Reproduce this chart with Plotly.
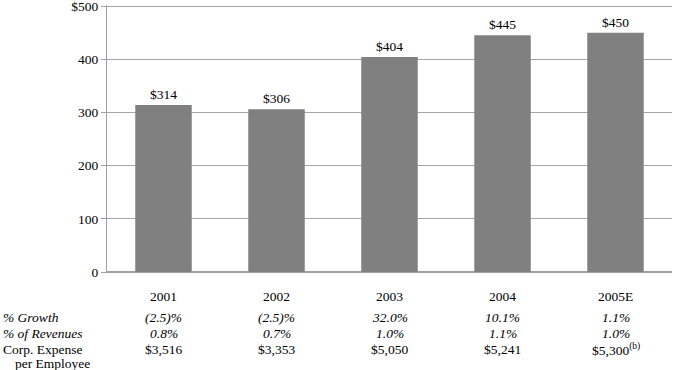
import plotly.graph_objects as go

years = ["2001", "2002", "2003", "2004", "2005E"]
expense = [314, 306, 404, 445, 450]
bar_labels = ["$314", "$306", "$404", "$445", "$450"]
growth = ["(2.5)%", "(2.5)%", "32.0%", "10.1%", "1.1%"]
revenues = ["0.8%", "0.7%", "1.0%", "1.1%", "1.0%"]
per_employee = ["$3,516", "$3,353", "$5,050", "$5,241", "$5,300<sup>(b)</sup>"]
tick_vals = [0, 100, 200, 300, 400, 500]
tick_text = ["0", "100", "200", "300", "400", "$500"]

FONT = "Liberation Serif"

fig = go.Figure(go.Bar(
    x=years, y=expense, text=bar_labels, textposition="outside",
    marker=dict(color="#808080", line=dict(width=0)),
    width=0.5, cliponaxis=False,
    textfont=dict(family=FONT, size=13.5, color="black"),
))

ann = []
base = 272
def row(texts, px, italic=False):
    for i, t in enumerate(texts):
        ann.append(dict(x=i, y=0, xref="x", yref="paper", text=f"<i>{t}</i>" if italic else t,
                        showarrow=False, yanchor="middle", yshift=-(px - base),
                        font=dict(family=FONT, size=13.5, color="black")))

row(years, 296)
row(growth, 317, True)
row(revenues, 333, True)
row(per_employee, 349)

left_labels = [("<i>% Growth</i>", 317, 0), ("<i>% of Revenues</i>", 333, 0),
               ("Corp. Expense", 349, 0), ("per Employee", 363, 12)]
for t, px, ind in left_labels:
    ann.append(dict(x=0, y=0, xref="paper", yref="paper", text=t, showarrow=False,
                    xanchor="left", yanchor="middle", xshift=-106 + ind, yshift=-(px - base),
                    font=dict(family=FONT, size=13.5, color="black")))

fig.update_layout(
    width=673, height=370,
    margin=dict(l=107, r=1, t=5, b=98, autoexpand=False),
    paper_bgcolor="white", plot_bgcolor="white",
    showlegend=False, annotations=ann,
    font=dict(family=FONT, size=13.5, color="black"),
)
fig.update_xaxes(type="category", categoryorder="array", categoryarray=years,
                 range=[-0.5, 4.5],
                 showticklabels=False, showline=True, linecolor="#a0a0a0", linewidth=1,
                 ticks="", showgrid=False, automargin=False)
fig.update_yaxes(range=[0, 502], tickvals=tick_vals, ticktext=tick_text,
                 showgrid=True, gridcolor="#a6a6a6", gridwidth=1,
                 showline=True, linecolor="#a0a0a0", linewidth=1,
                 ticks="outside", ticklen=5, tickcolor="#a0a0a0",
                 zeroline=True, zerolinecolor="#a0a0a0", automargin=False,
                 ticklabeloverflow="allow",
                 tickfont=dict(family=FONT, size=13.5, color="black"))

fig.write_html("out.html", config={"displayModeBar": False},
               post_script="document.body.style.margin='0';document.body.style.overflow='hidden';")
